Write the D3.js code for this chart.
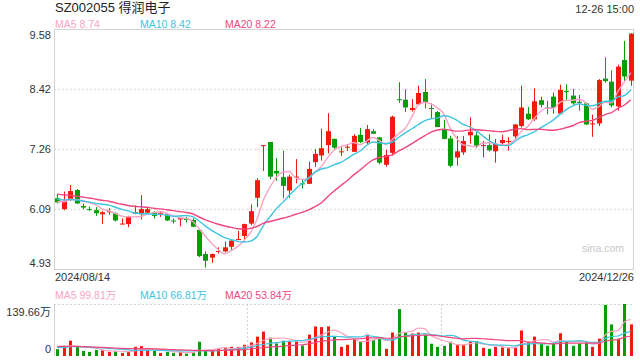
<!DOCTYPE html>
<html>
<head>
  <title>SZ002055 得润电子</title>
  <style type="text/css">
    body { margin: 0; background: #fff; }
    svg { display: block; font-family: Arial, "Liberation Sans", "Noto Sans CJK SC", sans-serif; }
    .lbl { fill: #333; font-size: 11px; }
  </style>
</head>
<body>
<svg id='vis' width="640" height="360"></svg>

<script src="https://cdnjs.cloudflare.com/ajax/libs/d3/7.8.5/d3.min.js"></script>
<script type="text/javascript">
  // trading days 2024/08/14 .. 2024/12/26
  var dates = [
    '08-14','08-15','08-16','08-19','08-20','08-21','08-22','08-23','08-26','08-27','08-28','08-29','08-30',
    '09-02','09-03','09-04','09-05','09-06','09-09','09-10','09-11','09-12','09-13','09-18','09-19','09-20',
    '09-23','09-24','09-25','09-26','09-27','09-30',
    '10-08','10-09','10-10','10-11','10-14','10-15','10-16','10-17','10-18','10-21','10-22','10-23','10-24',
    '10-25','10-28','10-29','10-30','10-31',
    '11-01','11-04','11-05','11-06','11-07','11-08','11-11','11-12','11-13','11-14','11-15','11-18','11-19',
    '11-20','11-21','11-22','11-25','11-26','11-27','11-28','11-29',
    '12-02','12-03','12-04','12-05','12-06','12-09','12-10','12-11','12-12','12-13','12-16','12-17','12-18',
    '12-19','12-20','12-23','12-24','12-25','12-26'
  ]
  var open = [6.30,6.09,6.27,6.46,6.15,6.09,6.07,5.99,6.03,6.01,5.80,5.80,6.00,5.99,6.02,6.03,6.00,5.99,5.87,5.89,
    5.91,5.88,5.69,5.22,5.15,5.26,5.27,5.36,5.50,5.57,5.81,6.31,7.32,7.39,6.83,6.71,6.45,6.70,6.59,6.58,
    7.00,7.13,7.33,7.45,7.19,7.28,7.20,7.53,7.38,7.60,7.48,6.95,7.18,8.22,8.21,8.01,8.12,8.36,8.05,7.97,
    7.64,7.46,7.09,7.19,7.52,7.52,7.32,7.33,7.21,7.37,7.40,7.50,7.70,7.94,7.83,8.20,8.06,8.27,7.94,8.38,
    8.29,8.17,8.14,7.74,7.75,8.62,8.56,8.08,8.98,8.58]
  var high = [6.38,6.43,6.56,6.48,6.20,6.14,6.13,6.05,6.11,6.03,5.91,5.96,6.16,6.36,6.14,6.05,6.05,6.01,5.91,5.93,
    5.94,5.91,5.70,5.27,5.23,5.35,5.46,5.49,5.67,5.81,6.18,6.69,7.33,7.39,7.08,7.22,6.76,7.06,6.67,7.01,
    7.25,7.65,7.95,7.46,7.29,7.35,7.54,7.66,7.72,7.64,7.49,7.24,7.90,8.55,8.41,8.22,8.48,8.61,8.14,7.99,
    7.82,7.51,7.51,7.51,7.87,7.58,7.41,7.54,7.45,7.53,7.48,7.74,8.48,8.07,8.43,8.27,8.19,8.35,8.50,8.51,
    8.42,8.30,8.16,7.92,8.61,9.03,8.78,8.89,9.35,9.50]
  var low = [6.20,6.07,6.25,6.19,6.09,6.06,5.96,5.80,5.98,5.85,5.80,5.74,5.99,5.89,6.01,5.91,5.94,5.86,5.81,5.76,
    5.83,5.74,5.16,4.96,5.05,5.23,5.25,5.29,5.50,5.49,5.78,6.13,6.83,6.67,6.64,6.30,6.31,6.59,6.49,6.58,
    6.91,7.03,7.17,7.24,7.12,7.22,7.20,7.37,7.35,7.55,6.96,6.91,7.13,8.15,7.97,7.98,8.11,8.04,7.85,7.68,
    7.44,6.90,6.93,7.14,7.36,7.27,7.09,7.21,6.99,7.32,7.22,7.45,7.67,7.82,7.80,8.06,7.93,7.94,7.93,8.19,
    8.11,8.00,7.72,7.49,7.70,8.54,8.06,8.00,8.56,8.48]
  var close = [6.22,6.25,6.44,6.20,6.12,6.08,6.01,6.03,6.05,5.87,5.81,5.94,6.03,6.09,6.09,5.96,6.02,5.87,5.85,5.92,
    5.88,5.75,5.18,5.09,5.22,5.28,5.35,5.48,5.51,5.80,6.05,6.65,7.33,6.72,6.78,6.54,6.72,6.72,6.57,6.87,
    7.16,7.27,7.60,7.28,7.21,7.30,7.51,7.39,7.64,7.55,6.99,7.14,7.88,8.21,8.06,8.05,8.34,8.15,8.04,7.68,
    7.45,6.93,7.21,7.41,7.59,7.32,7.33,7.23,7.35,7.43,7.41,7.73,8.06,7.83,8.18,8.11,8.05,8.05,8.40,8.36,
    8.14,8.15,7.73,7.75,8.59,8.57,8.10,8.85,8.66,9.49]
  // volume, 万股
  var volume = [18.3,27.4,41.1,24.6,13.7,11.0,16.4,15.5,11.0,12.8,8.2,11.9,24.6,26.5,15.5,13.7,8.2,11.0,8.2,11.0,
    6.4,9.1,38.3,16.4,15.5,20.0,22.8,24.6,24.6,30.0,36.5,52.0,65.7,49.3,33.8,41.1,39.3,39.3,28.3,57.5,
    79.4,77.6,79.4,53.9,24.6,30.0,45.6,39.3,57.5,42.9,50.2,19.2,63.0,126.0,63.0,60.2,63.0,56.6,32.9,24.6,
    27.4,38.3,30.0,30.0,39.3,40.2,21.9,19.2,24.6,22.8,21.9,22.8,68.5,38.3,52.0,33.8,27.4,33.8,61.2,38.3,
    27.4,33.8,36.5,24.6,46.6,137.0,84.9,46.6,139.66,84.9]
  // 19 sessions before 08/14, only used for the moving averages
  var prevClose = [6.55,6.60,6.52,6.48,6.45,6.50,6.42,6.40,6.46,6.42,6.38,6.35,6.30,6.32,6.30,6.25,6.20,6.22,6.27]
  var prevVolume = [30,28,35,26,24,32,29,27,31,25,22,26,24,21,23,24,22,28,20]

  var priceTicks = [9.58, 8.42, 7.26, 6.09, 4.93]
  var volTicks = [139.66, 0]
  var volTickLabels = ['139.66万', '0']
  var maNames = ['MA5', 'MA10', 'MA20']
  var maDays = [5, 10, 20]
  var maLegend = ['8.74', '8.42', '8.22']
  var volLegend = ['99.81万', '66.81万', '53.84万']
  var volGridIdx = [30, 60]
  var dateLabels = ['2024/08/14', '2024/12/26']

  var colors = { up: '#f2190e', down: '#079d07', ma: ['#fba3c4', '#3ec5e2', '#f2467e'] }

  var svg = d3.select('#vis')
  var plot = { left: 54, right: 634, top: 29, bottom: 269 }
  var vol = { top: 304, bottom: 356 }

  var idx = d3.range(dates.length)
  var x = d3.scaleBand().domain(idx).range([plot.left, plot.right])
  var cx = function(i) { return x(i) + x.bandwidth() / 2 }
  var y = d3.scaleLinear().domain([4.93, 9.58]).range([plot.bottom, plot.top])
  var yv = d3.scaleLinear().domain([0, 139.66]).range([vol.bottom, vol.top])

  function movingAvg(prev, vals, n) {
    var all = prev.concat(vals)
    return vals.map(function(v, i) {
      var end = prev.length + i
      return d3.mean(all.slice(end - n + 1, end + 1))
    })
  }

  // grid + frame
  svg.selectAll('.grid').data(priceTicks.slice(1, 4)).enter().append('line')
    .attr('x1', plot.left).attr('x2', plot.right)
    .attr('y1', function(d) { return Math.round(y(d)) + 0.5 })
    .attr('y2', function(d) { return Math.round(y(d)) + 0.5 })
    .attr('stroke', '#dedede').attr('stroke-width', 1.6).attr('stroke-dasharray', '2,2')
  svg.append('rect')
    .attr('x', plot.left + 0.5).attr('y', plot.top + 0.5)
    .attr('width', plot.right - plot.left - 1).attr('height', plot.bottom - plot.top)
    .attr('fill', 'none').attr('stroke', '#d2d2d2')

  // price labels
  svg.selectAll('.py').data(priceTicks).enter().append('text')
    .attr('class', 'lbl').attr('text-anchor', 'end').attr('x', 51)
    .attr('y', function(d, i) {
      if (i === 0) return y(d) + 10
      if (i === priceTicks.length - 1) return y(d) - 2
      return y(d) + 4
    })
    .text(function(d) { return d.toFixed(2) })

  svg.append('text').attr('x', 582).attr('y', 252).attr('fill', '#c8c8c8')
    .style('font-size', '10.5px').text('sina.com')

  // candles
  var c = svg.append('g').selectAll('g').data(idx).enter().append('g')
  var col = function(i) { return close[i] >= open[i] ? colors.up : colors.down }
  c.append('line')
    .attr('x1', function(i) { return Math.round(cx(i)) + 0.5 })
    .attr('x2', function(i) { return Math.round(cx(i)) + 0.5 })
    .attr('y1', function(i) { return y(high[i]) })
    .attr('y2', function(i) { return y(low[i]) })
    .attr('stroke', col)
  c.append('rect')
    .attr('x', function(i) { return Math.round(cx(i)) - 2 })
    .attr('width', 5)
    .attr('y', function(i) { return y(Math.max(open[i], close[i])) })
    .attr('height', function(i) { return Math.max(1, Math.abs(y(open[i]) - y(close[i]))) })
    .attr('fill', col)

  // price MAs
  var line = d3.line().x(function(d, i) { return cx(i) }).y(function(d) { return y(d) }).curve(d3.curveMonotoneX)
  maDays.forEach(function(n, k) {
    svg.append('path').datum(movingAvg(prevClose, close, n))
      .attr('d', line).attr('fill', 'none').attr('stroke', colors.ma[k]).attr('stroke-width', 1.4)
  })

  // header
  svg.append('text').attr('x', 55).attr('y', 12).attr('fill', '#222').style('font-size', '13px').text('SZ002055 得润电子')
  svg.append('text').attr('x', 634).attr('y', 12.5).attr('text-anchor', 'end').attr('class', 'lbl').text('12-26 15:00')
  var legX = [55, 140, 225]
  maNames.forEach(function(m, k) {
    svg.append('text').attr('x', legX[k]).attr('y', 27.5).attr('fill', colors.ma[k])
      .style('font-size', '10.5px').text(m + ' ' + maLegend[k])
    svg.append('text').attr('x', legX[k]).attr('y', 298.5).attr('fill', colors.ma[k])
      .style('font-size', '10.5px').text(m + ' ' + volLegend[k])
  })
  svg.append('text').attr('class', 'lbl').attr('x', 55).attr('y', 281).text(dateLabels[0])
  svg.append('text').attr('class', 'lbl').attr('x', 634).attr('y', 281).attr('text-anchor', 'end').text(dateLabels[1])

  // volume panel
  svg.append('line').attr('x1', plot.left).attr('x2', plot.right).attr('y1', vol.top + 0.5).attr('y2', vol.top + 0.5)
    .attr('stroke', '#d2d2d2').attr('stroke-dasharray', '2,2')
  svg.selectAll('.vg').data(volGridIdx).enter().append('line')
    .attr('x1', function(i) { return Math.round(x(i)) + 0.5 }).attr('x2', function(i) { return Math.round(x(i)) + 0.5 })
    .attr('y1', vol.top).attr('y2', vol.bottom)
    .attr('stroke', '#d2d2d2').attr('stroke-dasharray', '2,2')
  svg.append('line').attr('x1', plot.left + 0.5).attr('x2', plot.left + 0.5).attr('y1', vol.top).attr('y2', vol.bottom)
    .attr('stroke', '#d2d2d2')
  svg.selectAll('.vy').data(volTicks).enter().append('text')
    .attr('class', 'lbl').attr('text-anchor', 'end').attr('x', 51)
    .attr('y', function(d, i) { return i === 0 ? yv(d) + 12 : yv(d) - 3 })
    .text(function(d, i) { return volTickLabels[i] })

  svg.append('g').selectAll('rect').data(idx).enter().append('rect')
    .attr('x', function(i) { return Math.round(cx(i)) - 1 })
    .attr('width', 3)
    .attr('y', function(i) { return yv(volume[i]) })
    .attr('height', function(i) { return vol.bottom - yv(volume[i]) })
    .attr('fill', col)

  var vline = d3.line().x(function(d, i) { return cx(i) }).y(function(d) { return yv(d) }).curve(d3.curveMonotoneX)
  maDays.forEach(function(n, k) {
    svg.append('path').datum(movingAvg(prevVolume, volume, n))
      .attr('d', vline).attr('fill', 'none').attr('stroke', colors.ma[k]).attr('stroke-width', 1.2)
  })
</script>
</body>
</html>
